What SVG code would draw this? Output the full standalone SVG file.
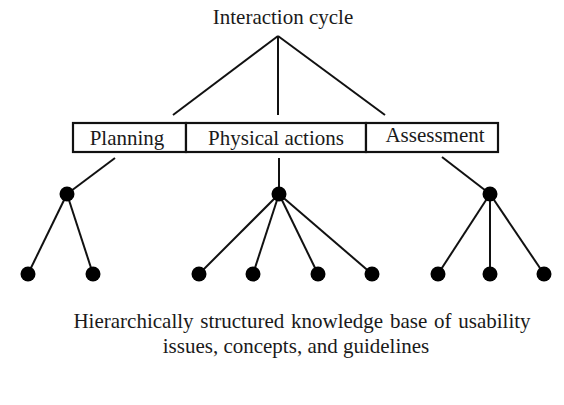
<svg xmlns="http://www.w3.org/2000/svg" width="564" height="405" viewBox="0 0 564 405">
<style>
  text { font-family: "Liberation Serif", "Times New Roman", Times, serif; font-size: 21px; fill: #1a1a1a; text-anchor: middle; }
  .ln { stroke: #111; stroke-width: 2; fill: none; }
  .box { stroke: #111; stroke-width: 2.2; fill: #fff; }
  .dot { fill: #000; }
</style>
<rect width="564" height="405" fill="#fff"/>
<g id="connectors">
  <line class="ln" x1="278" y1="36" x2="173" y2="115"/>
  <line class="ln" x1="278" y1="36" x2="278" y2="115"/>
  <line class="ln" x1="278" y1="36" x2="385" y2="115"/>
  <line class="ln" x1="115" y1="158" x2="67" y2="194"/>
  <line class="ln" x1="279" y1="158" x2="279" y2="194"/>
  <line class="ln" x1="442" y1="157" x2="490" y2="194"/>
  <line class="ln" x1="67" y1="194" x2="28" y2="274"/>
  <line class="ln" x1="67" y1="194" x2="93" y2="274"/>
  <line class="ln" x1="279" y1="194" x2="199" y2="274"/>
  <line class="ln" x1="279" y1="194" x2="253" y2="274"/>
  <line class="ln" x1="279" y1="194" x2="318" y2="274"/>
  <line class="ln" x1="279" y1="194" x2="372" y2="274"/>
  <line class="ln" x1="490" y1="194" x2="438" y2="274"/>
  <line class="ln" x1="490" y1="194" x2="490" y2="274"/>
  <line class="ln" x1="490" y1="194" x2="544" y2="274"/>
</g>
<g id="root"><text x="283" y="24">Interaction cycle</text></g>
<g id="planning">
  <rect class="box" x="73" y="123" width="113" height="29"/>
  <text x="127" y="145">Planning</text>
</g>
<g id="physical-actions">
  <rect class="box" x="186" y="123" width="180" height="29"/>
  <text x="276" y="145">Physical actions</text>
</g>
<g id="assessment">
  <rect class="box" x="366" y="123" width="132" height="29"/>
  <text x="435" y="142">Assessment</text>
</g>
<g id="dots">
  <circle class="dot" cx="67" cy="194" r="7.5"/>
  <circle class="dot" cx="279" cy="194" r="7.5"/>
  <circle class="dot" cx="490" cy="194" r="7.5"/>
  <circle class="dot" cx="28" cy="274" r="7.5"/>
  <circle class="dot" cx="93" cy="274" r="7.5"/>
  <circle class="dot" cx="199" cy="274" r="7.5"/>
  <circle class="dot" cx="253" cy="274" r="7.5"/>
  <circle class="dot" cx="318" cy="274" r="7.5"/>
  <circle class="dot" cx="372" cy="274" r="7.5"/>
  <circle class="dot" cx="438" cy="274" r="7.5"/>
  <circle class="dot" cx="490" cy="274" r="7.5"/>
  <circle class="dot" cx="544" cy="274" r="7.5"/>
</g>
<g id="caption">
  <text x="302" y="328" word-spacing="1.5">Hierarchically structured knowledge base of usability</text>
  <text x="296" y="353">issues, concepts, and guidelines</text>
</g>
</svg>
